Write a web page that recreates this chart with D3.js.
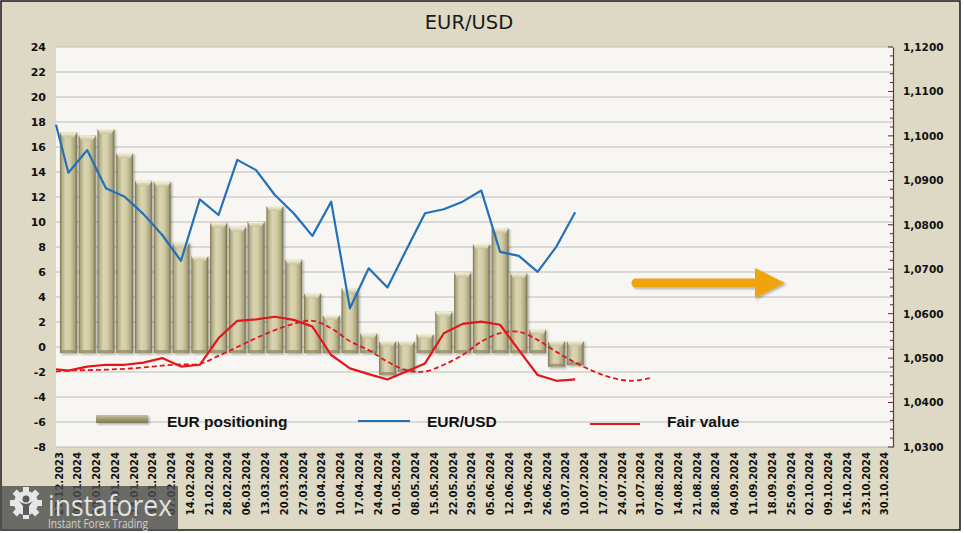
<!DOCTYPE html>
<html><head><meta charset="utf-8">
<script src="https://cdn.jsdelivr.net/npm/d3@7"></script>
<style>body{margin:0;background:#fff}svg{display:block}</style>
</head><body>
<svg id="c" width="964" height="533"></svg>
<script>
// ---------- DATA ----------
const dates = ["27.12.2023","03.01.2024","10.01.2024","17.01.2024","24.01.2024","31.01.2024","07.02.2024","14.02.2024","21.02.2024","28.02.2024","06.03.2024","13.03.2024","20.03.2024","27.03.2024","03.04.2024","10.04.2024","17.04.2024","24.04.2024","01.05.2024","08.05.2024","15.05.2024","22.05.2024","29.05.2024","05.06.2024","12.06.2024","19.06.2024","26.06.2024","03.07.2024","10.07.2024","17.07.2024","24.07.2024","31.07.2024","07.08.2024","14.08.2024","21.08.2024","28.08.2024","04.09.2024","11.09.2024","18.09.2024","25.09.2024","02.10.2024","09.10.2024","16.10.2024","23.10.2024","30.10.2024"];
const eurPositioning = [17.17,16.93,17.44,15.5,13.3,13.22,8.35,7.28,9.95,9.63,10.03,11.28,7.0,4.3,2.56,4.7,1.1,-2.24,-1.97,1.04,2.83,5.97,8.24,9.5,5.9,1.4,-1.57,-1.44];
const eurusdStart = 1.1025;
const eurusd = [1.0917,1.0968,1.0882,1.0863,1.0824,1.0777,1.0719,1.0857,1.0822,1.0946,1.0923,1.0867,1.0826,1.0775,1.0852,1.0612,1.0702,1.0659,1.0743,1.0826,1.0835,1.0852,1.0877,1.0739,1.0730,1.0694,1.0751,1.0828];
const fairStart = 1.0475;
const fairValue = [1.0472,1.0481,1.0485,1.0485,1.0490,1.0500,1.0481,1.0485,1.0545,1.0584,1.0587,1.0593,1.0586,1.0571,1.0507,1.0477,1.0464,1.0452,1.0470,1.0488,1.0556,1.0577,1.0582,1.0575,1.0518,1.0462,1.0449,1.0452];
const fairTrendStart = 1.0470;
const fairTrend = [1.0472,1.0473,1.0474,1.0476,1.0479,1.0483,1.0486,1.0487,1.0505,1.0525,1.0545,1.0563,1.0577,1.0584,1.0567,1.0538,1.0518,1.0492,1.0473,1.0470,1.0485,1.0507,1.0537,1.0556,1.0559,1.0541,1.0514,1.0490,1.0470,1.0455,1.0449,1.0455];
const leftTicks = [-8,-6,-4,-2,0,2,4,6,8,10,12,14,16,18,20,22,24];
const rightTicks = [1.03,1.04,1.05,1.06,1.07,1.08,1.09,1.10,1.11,1.12];
const legendLabels = ["EUR positioning","EUR/USD","Fair value"];

// ---------- LAYOUT ----------
const plot = {left:56, right:893, top:47, bottom:447};
const svg = d3.select('#c');
const defs = svg.append('defs');

const yL = d3.scaleLinear().domain([-8,24]).range([plot.bottom, plot.top]);
const yR = d3.scaleLinear().domain([1.03,1.12]).range([plot.bottom, plot.top]);
const step = 18.77;
const x = d3.scaleBand().domain(dates).range([59, 59 + step*dates.length]).padding(0);
const cx = d => x(d) + x.bandwidth()/2;

// gradients
const gBar = defs.append('linearGradient').attr('id','gBar').attr('x1',0).attr('x2',1).attr('y1',0).attr('y2',0);
[[0,'#77724E'],[0.12,'#B3AD86'],[0.35,'#D9D4B1'],[0.6,'#D3CDA7'],[0.86,'#ADA780'],[1,'#716C49']].forEach(s=>gBar.append('stop').attr('offset',s[0]).attr('stop-color',s[1]));
const gCap = defs.append('linearGradient').attr('id','gCap').attr('x1',0).attr('x2',0).attr('y1',0).attr('y2',1);
[[0,'#F6F3DE'],[1,'#C8C29B']].forEach(s=>gCap.append('stop').attr('offset',s[0]).attr('stop-color',s[1]));
const gLeg = defs.append('linearGradient').attr('id','gLeg').attr('x1',0).attr('x2',0).attr('y1',0).attr('y2',1);
[[0,'#C9C39C'],[0.5,'#A39D76'],[1,'#7E7954']].forEach(s=>gLeg.append('stop').attr('offset',s[0]).attr('stop-color',s[1]));
const sh = defs.append('filter').attr('id','sh').attr('x','-20%').attr('y','-20%').attr('width','150%').attr('height','150%');
sh.append('feDropShadow').attr('dx',1.5).attr('dy',1.5).attr('stdDeviation',1.2).attr('flood-color','#000').attr('flood-opacity',0.3);

// frame + plot background
svg.append('rect').attr('x',1).attr('y',1).attr('width',959).attr('height',529)
  .attr('fill','#DDD9C4').attr('stroke','#151515').attr('stroke-width',1.5);
svg.append('rect').attr('x',plot.left).attr('y',plot.top).attr('width',plot.right-plot.left).attr('height',plot.bottom-plot.top)
  .attr('fill','#F7F6F2');

// title
svg.append('text').attr('x',469).attr('y',29).attr('text-anchor','middle')
  .attr('font-family','DejaVu Sans').attr('font-size',19.5).attr('fill','#1a1a1a').text('EUR/USD');

// gridlines
svg.append('g').selectAll('line').data(leftTicks).join('line')
  .attr('x1',plot.left).attr('x2',plot.right).attr('y1',d=>yL(d)).attr('y2',d=>yL(d))
  .attr('stroke','#BEBDB8').attr('stroke-width',1);

// left axis
const gl = svg.append('g').attr('transform',`translate(${plot.left},0)`)
  .call(d3.axisLeft(yL).tickValues(leftTicks).tickSize(0).tickPadding(10).tickFormat(d=>String(d)));
gl.select('.domain').remove();
gl.selectAll('text').attr('font-family','DejaVu Sans').attr('font-weight','bold').attr('font-size',11).attr('fill','#111');

// right axis
const gr = svg.append('g').attr('transform',`translate(${plot.right},0)`)
  .call(d3.axisRight(yR).tickValues(rightTicks).tickSize(0).tickPadding(10).tickFormat(d=>d3.format('.4f')(d).replace('.',',')));
gr.select('.domain').attr('stroke','#7A3030').attr('stroke-width',1.2);
gr.selectAll('text').attr('font-family','DejaVu Sans').attr('font-weight','bold').attr('font-size',10.5).attr('fill','#111');
const minor = d3.range(0,46).map(i=>1.03+i*0.002);
svg.append('g').selectAll('line').data(minor).join('line')
  .attr('x1',(d,i)=>plot.right-(i%5===0?5:3)).attr('x2',plot.right).attr('y1',d=>yR(d)).attr('y2',d=>yR(d))
  .attr('stroke','#5a2a2a').attr('stroke-width',1);

// x labels
svg.append('g').selectAll('text').data(dates).join('text')
  .attr('transform',d=>`translate(${x(d)},452) rotate(-90)`)
  .attr('text-anchor','end').attr('dominant-baseline','central')
  .attr('font-family','DejaVu Sans').attr('font-weight','bold').attr('font-size',10).attr('fill','#111')
  .text(d=>d);

// bars
const ext = 6;
const bw = x.bandwidth()*0.9;
const bars = svg.append('g').attr('filter','url(#sh)');
eurPositioning.forEach((v,i)=>{
  const d = dates[i];
  const top = v>=0 ? yL(v) : yL(0)-ext;
  const bot = v>=0 ? yL(0)+ext : yL(v);
  const bx = cx(d)-bw/2;
  bars.append('rect').attr('x',bx).attr('y',top).attr('width',bw).attr('height',bot-top).attr('fill','url(#gBar)');
  bars.append('path').attr('d',`M${bx},${top}L${bx+bw},${top}L${bx+bw-3},${top+5}L${bx+3},${top+5}Z`).attr('fill','url(#gCap)');
  bars.append('path').attr('d',`M${bx+3},${bot-3}L${bx+bw-3},${bot-3}L${bx+bw},${bot}L${bx},${bot}Z`).attr('fill','#8B865F').attr('opacity',0.7);
});

// lines
const ptsR = (start, arr) => [[plot.left, yR(start)]].concat(arr.map((v,i)=>[cx(dates[i]), yR(v)]));
svg.append('path').attr('d',d3.line().curve(d3.curveCatmullRom.alpha(0.5))(ptsR(fairTrendStart,fairTrend)))
  .attr('fill','none').attr('stroke','#E3161B').attr('stroke-width',1.8).attr('stroke-dasharray','5,3');
svg.append('path').attr('d',d3.line()(ptsR(fairStart,fairValue)))
  .attr('fill','none').attr('stroke','#E3161B').attr('stroke-width',2.2).attr('stroke-linejoin','round');
svg.append('path').attr('d',d3.line()(ptsR(eurusdStart,eurusd)))
  .attr('fill','none').attr('stroke','#2170B8').attr('stroke-width',2.2).attr('stroke-linejoin','round');

// legend
const lg = svg.append('g');
lg.append('rect').attr('x',96).attr('y',415).attr('width',52).attr('height',8).attr('fill','url(#gLeg)').attr('filter','url(#sh)');
lg.append('line').attr('x1',358).attr('x2',410).attr('y1',421).attr('y2',421).attr('stroke','#2170B8').attr('stroke-width',2.2);
lg.append('line').attr('x1',590).attr('x2',640).attr('y1',424).attr('y2',424).attr('stroke','#E3161B').attr('stroke-width',2.2);
[[167,427],[427,427],[667,427]].forEach((p,i)=>{
  lg.append('text').attr('x',p[0]).attr('y',p[1]).attr('font-family','Liberation Sans').attr('font-weight','bold')
    .attr('font-size',15.5).attr('fill','#111').text(legendLabels[i]);
});

// arrow annotation
const ag = svg.append('g').attr('filter','url(#sh)');
ag.append('line').attr('x1',636).attr('x2',760).attr('y1',283).attr('y2',283)
  .attr('stroke','#EFA30E').attr('stroke-width',9).attr('stroke-linecap','round');
ag.append('path').attr('d','M755,268L785,283L755,298Z').attr('fill','#EFA30E');

// logo (semi-transparent overlay, as in the reference)
const lo = svg.append('g');
lo.append('rect').attr('x',0).attr('y',486).attr('width',178).attr('height',44).attr('fill','#4f4f4f').attr('opacity',0.8);
const gx=26, gy=503;
for(let k=0;k<8;k++){
  lo.append('rect').attr('x',gx-3).attr('y',gy-16).attr('width',6).attr('height',8).attr('fill','#e6e6e6')
    .attr('transform',`rotate(${k*45},${gx},${gy})`);
}
lo.append('circle').attr('cx',gx).attr('cy',gy).attr('r',12).attr('fill','#e6e6e6');
lo.append('circle').attr('cx',gx).attr('cy',gy-4).attr('r',3.5).attr('fill','#5a5a5a');
lo.append('path').attr('d',`M${gx-7},${gy-2}Q${gx},${gy+4} ${gx+7},${gy-2}L${gx+3},${gy+3}L${gx+3},${gy+12}L${gx-3},${gy+12}L${gx-3},${gy+3}Z`).attr('fill','#5a5a5a');
lo.append('text').attr('x',48).attr('y',516).attr('font-family','Open Sans').attr('font-size',30).attr('fill','#e2e2e2')
  .attr('textLength',124).attr('lengthAdjust','spacingAndGlyphs').text('instaforex');
lo.append('text').attr('x',48).attr('y',528).attr('font-family','Open Sans').attr('font-size',12).attr('fill','#cfcfcf')
  .attr('textLength',100).attr('lengthAdjust','spacingAndGlyphs').text('Instant Forex Trading');
</script>
</body></html>
